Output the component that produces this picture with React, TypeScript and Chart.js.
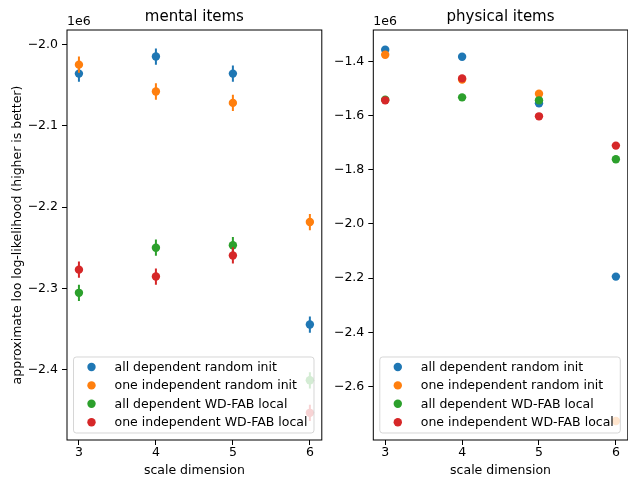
import React, { useEffect, useRef } from "react";
import { Chart, registerables } from "chart.js";

Chart.register(...registerables);

const CATEGORIES = [3, 4, 5, 6];
const SERIES_NAMES = [
  "all dependent random init",
  "one independent random init",
  "all dependent WD-FAB local",
  "one independent WD-FAB local",
];
const COLORS = ["#1f77b4", "#ff7f0e", "#2ca02c", "#d62728"];

// mental items (values in raw units, shown with 1e6 offset)
const MENTAL_ALL_RANDOM = [-2036000, -2015000, -2036000, -2344500];
const MENTAL_ONE_RANDOM = [-2025000, -2058000, -2072000, -2218500];
const MENTAL_ALL_WDFAB = [-2305500, -2250000, -2247000, -2413000];
const MENTAL_ONE_WDFAB = [-2277000, -2285500, -2259500, -2453000];
const MENTAL_ERR_ALL_RANDOM = [10000, 10000, 10000, 10000];
const MENTAL_ERR_ONE_RANDOM = [10000, 10000, 10000, 10000];
const MENTAL_ERR_ALL_WDFAB = [10000, 10000, 10000, 10000];
const MENTAL_ERR_ONE_WDFAB = [10000, 10000, 10000, 10000];

// physical items
const PHYS_ALL_RANDOM = [-1357000, -1383000, -1555000, -2194000];
const PHYS_ONE_RANDOM = [-1376000, -1467000, -1519500, -2726500];
const PHYS_ALL_WDFAB = [-1541500, -1533000, -1544000, -1761500];
const PHYS_ONE_WDFAB = [-1544000, -1463000, -1603000, -1711000];
const PHYS_ERR_ALL_RANDOM = [6000, 6000, 6000, 6000];
const PHYS_ERR_ONE_RANDOM = [6000, 6000, 6000, 6000];
const PHYS_ERR_ALL_WDFAB = [6000, 6000, 6000, 6000];
const PHYS_ERR_ONE_WDFAB = [6000, 6000, 6000, 6000];

const MENTAL_Y_TICKS = [-2000000, -2100000, -2200000, -2300000, -2400000];
const PHYS_Y_TICKS = [-1400000, -1600000, -1800000, -2000000, -2200000, -2400000, -2600000];
const X_TICKS = [3, 4, 5, 6];

const FONT = '"DejaVu Sans", sans-serif';
const FS = 12.5;
const TITLE_FS = 15;

function makePlugin(title: string, yLabel: string | null) {
  return {
    id: "mpl",
    beforeDatasetDraw(chart: any, args: any) {
      const ds = chart.data.datasets[args.index];
      const errs = ds.errors;
      if (!errs) return;
      const y = chart.scales.y;
      const ctx = chart.ctx;
      const a = chart.chartArea;
      ctx.save();
      ctx.beginPath();
      ctx.rect(a.left, a.top, a.right - a.left, a.bottom - a.top);
      ctx.clip();
      ctx.strokeStyle = ds.backgroundColor;
      ctx.lineWidth = 2;
      args.meta.data.forEach((pt: any, i: number) => {
        const v = ds.data[i].y;
        ctx.beginPath();
        ctx.moveTo(pt.x, y.getPixelForValue(v - errs[i]));
        ctx.lineTo(pt.x, y.getPixelForValue(v + errs[i]));
        ctx.stroke();
      });
      ctx.restore();
    },
    afterDatasetsDraw(chart: any) {
      const ctx = chart.ctx;
      const a = chart.chartArea;
      // legend
      ctx.save();
      ctx.font = `${FS}px ${FONT}`;
      let maxW = 0;
      SERIES_NAMES.forEach((n) => (maxW = Math.max(maxW, ctx.measureText(n).width)));
      const w = 41 + maxW + 6.5;
      const h = 76;
      const bx = a.left + 6.5;
      const by = a.bottom - 7 - h;
      const r = 2.8;
      ctx.beginPath();
      ctx.moveTo(bx + r, by);
      ctx.lineTo(bx + w - r, by);
      ctx.arcTo(bx + w, by, bx + w, by + r, r);
      ctx.lineTo(bx + w, by + h - r);
      ctx.arcTo(bx + w, by + h, bx + w - r, by + h, r);
      ctx.lineTo(bx + r, by + h);
      ctx.arcTo(bx, by + h, bx, by + h - r, r);
      ctx.lineTo(bx, by + r);
      ctx.arcTo(bx, by, bx + r, by, r);
      ctx.closePath();
      ctx.fillStyle = "rgba(255,255,255,0.8)";
      ctx.fill();
      ctx.strokeStyle = "rgba(204,204,204,0.8)";
      ctx.lineWidth = 1;
      ctx.stroke();
      ctx.textBaseline = "middle";
      ctx.textAlign = "left";
      SERIES_NAMES.forEach((n, i) => {
        const cy = by + 10 + i * 18.4;
        ctx.fillStyle = COLORS[i];
        ctx.beginPath();
        ctx.arc(bx + 18, cy, 4.2, 0, Math.PI * 2);
        ctx.fill();
        ctx.fillStyle = "#000";
        ctx.fillText(n, bx + 41, cy + 0.5);
      });
      ctx.restore();
    },
    afterDraw(chart: any) {
      const ctx = chart.ctx;
      const a = chart.chartArea;
      ctx.save();
      // spines
      ctx.strokeStyle = "#000";
      ctx.lineWidth = 1;
      ctx.strokeRect(a.left, a.top, a.right - a.left, a.bottom - a.top);
      // title
      ctx.fillStyle = "#000";
      ctx.font = `${TITLE_FS}px ${FONT}`;
      ctx.textAlign = "center";
      ctx.textBaseline = "middle";
      ctx.fillText(title, (a.left + a.right) / 2, 17);
      // offset text
      ctx.font = `${FS}px ${FONT}`;
      ctx.textAlign = "left";
      ctx.fillText("1e6", a.left, 22);
      // x label
      ctx.textAlign = "center";
      ctx.fillText("scale dimension", (a.left + a.right) / 2, 471);
      if (yLabel) {
        ctx.translate(18, (a.top + a.bottom) / 2);
        ctx.rotate(-Math.PI / 2);
        ctx.fillText(yLabel, 0, 0);
      }
      ctx.restore();
    },
  };
}

function makeConfig(
  series: number[][],
  errors: number[][],
  yMin: number,
  yMax: number,
  yTicks: number[],
  leftW: number,
  padR: number,
  title: string,
  yLabel: string | null
): any {
  const datasets = series.map((vals, i) => ({
    label: SERIES_NAMES[i],
    data: vals.map((v, j) => ({ x: CATEGORIES[j], y: v })),
    errors: errors[i],
    backgroundColor: COLORS[i],
    borderColor: COLORS[i],
    pointRadius: 4.2,
    pointBorderWidth: 0,
    pointHoverRadius: 4.2,
    showLine: false,
    order: 3 - i,
  }));
  return {
    type: "scatter",
    data: { datasets },
    options: {
      responsive: false,
      animation: false,
      devicePixelRatio: 1,
      layout: { padding: { top: 30, right: padR, bottom: 0, left: 0 } },
      plugins: { legend: { display: false }, tooltip: { enabled: false }, title: { display: false } },
      scales: {
        x: {
          type: "linear",
          min: 2.845,
          max: 6.155,
          afterBuildTicks: (s: any) => {
            s.ticks = X_TICKS.map((v) => ({ value: v }));
          },
          afterFit: (s: any) => {
            s.height = 39;
          },
          grid: { drawOnChartArea: false, drawTicks: true, tickLength: 5, color: "#000", lineWidth: 1 },
          border: { display: false },
          ticks: {
            color: "#000",
            font: { family: FONT, size: FS },
            padding: 0,
            maxRotation: 0,
            callback: (v: number) => String(v),
          },
        },
        y: {
          type: "linear",
          min: yMin,
          max: yMax,
          afterBuildTicks: (s: any) => {
            s.ticks = yTicks.map((v) => ({ value: v }));
          },
          afterFit: (s: any) => {
            s.width = leftW;
          },
          grid: { drawOnChartArea: false, drawTicks: true, tickLength: 5, color: "#000", lineWidth: 1 },
          border: { display: false },
          ticks: {
            color: "#000",
            font: { family: FONT, size: FS },
            padding: 4,
            callback: (v: number) => (v / 1e6).toFixed(1).replace("-", "\u2212"),
          },
        },
      },
    },
    plugins: [makePlugin(title, yLabel)],
  };
}

export default function App() {
  const leftRef = useRef<HTMLCanvasElement | null>(null);
  const rightRef = useRef<HTMLCanvasElement | null>(null);

  useEffect(() => {
    document.body.style.margin = "0";
    const c1 = new Chart(
      leftRef.current as HTMLCanvasElement,
      makeConfig(
        [MENTAL_ALL_RANDOM, MENTAL_ONE_RANDOM, MENTAL_ALL_WDFAB, MENTAL_ONE_WDFAB],
        [MENTAL_ERR_ALL_RANDOM, MENTAL_ERR_ONE_RANDOM, MENTAL_ERR_ALL_WDFAB, MENTAL_ERR_ONE_WDFAB],
        -2486400,
        -1982400,
        MENTAL_Y_TICKS,
        67,
        3,
        "mental items",
        "approximate loo log-likelihood (higher is better)"
      )
    );
    const c2 = new Chart(
      rightRef.current as HTMLCanvasElement,
      makeConfig(
        [PHYS_ALL_RANDOM, PHYS_ONE_RANDOM, PHYS_ALL_WDFAB, PHYS_ONE_WDFAB],
        [PHYS_ERR_ALL_RANDOM, PHYS_ERR_ONE_RANDOM, PHYS_ERR_ALL_WDFAB, PHYS_ERR_ONE_WDFAB],
        -2796600,
        -1284600,
        PHYS_Y_TICKS,
        47.3,
        3.3,
        "physical items",
        null
      )
    );
    return () => {
      c1.destroy();
      c2.destroy();
    };
  }, []);

  return (
    <div style={{ position: "relative", width: 628, height: 479, overflow: "hidden", background: "#fff" }}>
      <canvas ref={leftRef} width={326} height={479} style={{ position: "absolute", left: 0, top: 0 }} />
      <canvas ref={rightRef} width={306} height={479} style={{ position: "absolute", left: 326, top: 0 }} />
    </div>
  );
}
